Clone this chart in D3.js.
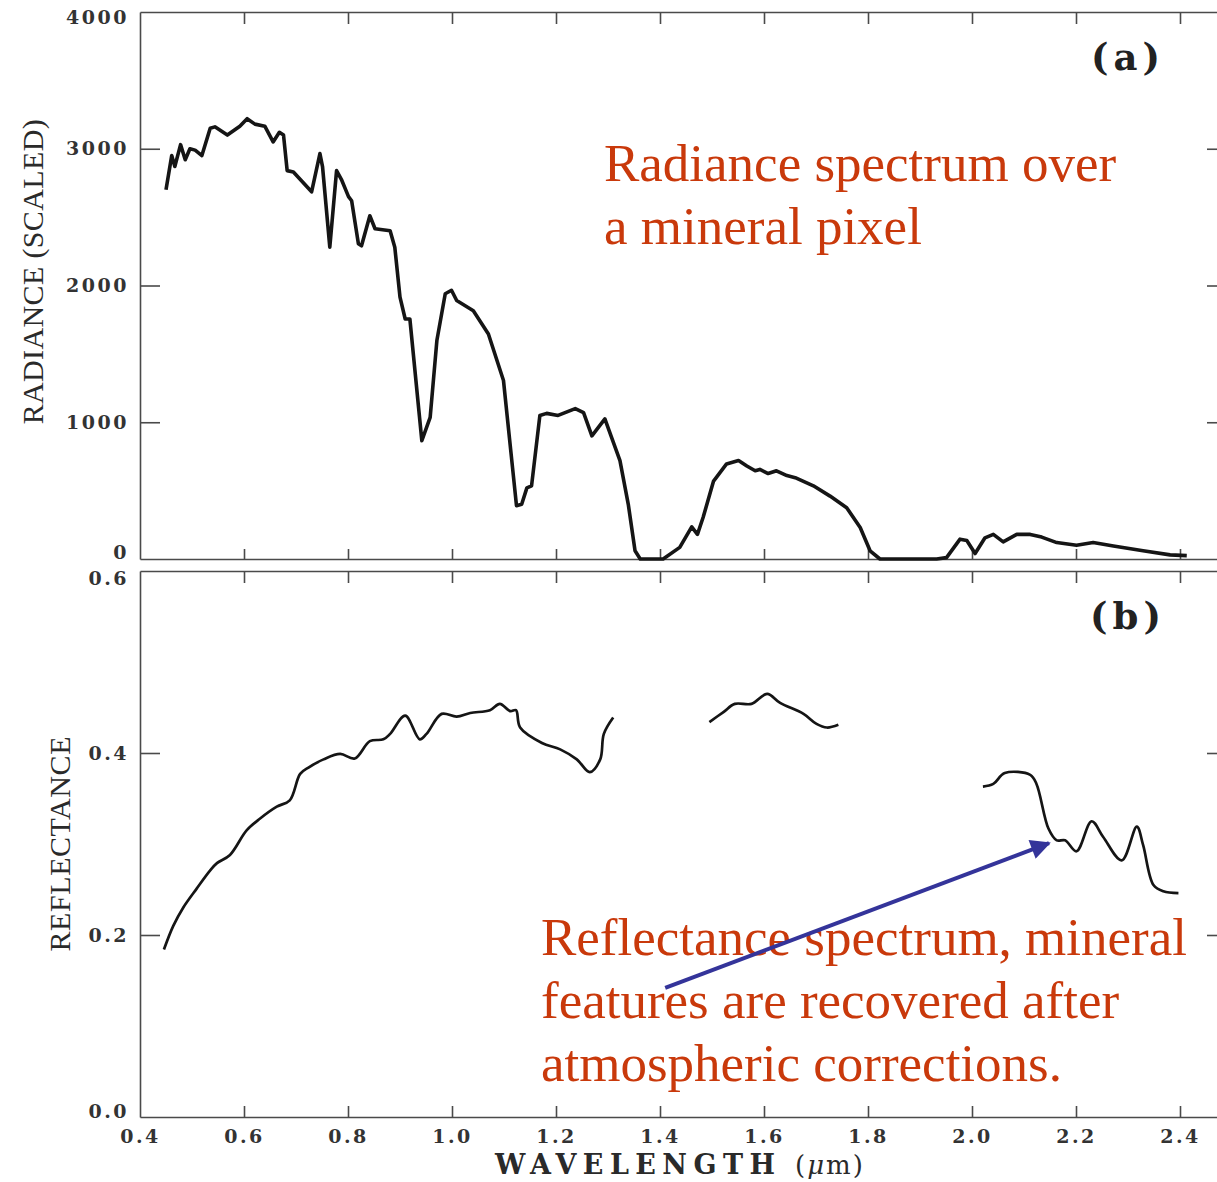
<!DOCTYPE html>
<html>
<head>
<meta charset="utf-8">
<script src="https://cdn.jsdelivr.net/npm/d3@7"></script>
<style>
    body { margin: 0; background: #fff; }
    .axis path, .axis line { stroke: #4a4a4a; stroke-width: 1.6; }
    .axis text { font-family: "DejaVu Serif", serif; font-weight: bold; fill: #333; letter-spacing: 2.5px; }
</style>
</head>
<body>
<div id="chart"></div>
<script>
// radiance spectrum, panel (a)
const radWl = [0.450,0.461,0.467,0.478,0.487,0.496,0.506,0.519,0.535,0.544,0.568,0.592,0.606,0.621,0.640,0.656,0.668,0.676,0.683,0.695,
    0.730,0.746,0.751,0.765,0.778,0.788,0.801,0.807,0.820,0.826,0.842,0.852,0.881,0.890,0.900,0.910,0.919,0.942,0.958,0.971,
    0.987,0.999,1.009,1.041,1.070,1.099,1.124,1.134,1.144,1.153,1.169,1.182,1.204,1.237,1.253,1.269,1.294,1.323,1.339,1.352,
    1.362,1.406,1.438,1.461,1.472,1.483,1.503,1.528,1.551,1.567,1.583,1.592,1.608,1.624,1.644,1.660,1.695,1.727,1.759,1.785,
    1.804,1.823,1.932,1.951,1.977,1.990,2.006,2.025,2.041,2.060,2.086,2.112,2.134,2.163,2.201,2.233,2.272,2.329,2.381,2.413];
const radVal = [2700,2950,2870,3030,2920,3000,2990,2950,3150,3160,3100,3165,3220,3180,3165,3050,3120,3100,2840,2830,
    2685,2965,2870,2280,2840,2770,2650,2620,2305,2290,2510,2415,2400,2280,1915,1755,1755,865,1035,1600,
    1940,1965,1890,1815,1645,1305,390,400,520,535,1050,1065,1050,1100,1070,900,1025,720,400,60,
    0,0,85,235,180,305,570,695,720,680,645,655,625,645,610,595,535,460,375,230,
    60,0,0,10,145,135,40,155,180,125,180,180,160,120,100,120,95,60,30,25];

// reflectance spectrum, panel (b) - three pieces (gaps at water bands)
const reflWlA = [0.446,0.464,0.483,0.509,0.535,0.548,0.573,0.605,0.631,0.663,0.688,0.708,0.724,0.753,0.785,0.813,0.842,0.868,0.881,0.910,
    0.938,0.951,0.980,1.009,1.035,1.073,1.092,1.112,1.123,1.131,1.173,1.208,1.240,1.265,1.285,1.292,1.310];
const reflA = [0.184,0.210,0.230,0.251,0.271,0.279,0.288,0.315,0.328,0.341,0.348,0.377,0.384,0.393,0.399,0.394,0.413,0.415,0.421,0.441,
    0.415,0.421,0.443,0.440,0.444,0.447,0.454,0.446,0.447,0.428,0.411,0.404,0.393,0.379,0.393,0.421,0.439];
const reflWlB = [1.495,1.522,1.544,1.576,1.606,1.631,1.676,1.701,1.721,1.743];
const reflB = [0.434,0.445,0.454,0.454,0.465,0.455,0.443,0.432,0.428,0.431];
const reflWlC = [2.021,2.041,2.063,2.112,2.124,2.147,2.163,2.179,2.201,2.230,2.252,2.288,2.317,2.329,2.349,2.368,2.397];
const reflC = [0.363,0.366,0.378,0.376,0.366,0.317,0.304,0.304,0.292,0.325,0.308,0.282,0.319,0.299,0.255,0.248,0.246];

const xTicks = [0.4,0.6,0.8,1.0,1.2,1.4,1.6,1.8,2.0,2.2,2.4];
const radTicks = [0,1000,2000,3000,4000];
const reflTicks = [0.0,0.2,0.4,0.6];

const width = 1217, height = 1182;
const svg = d3.select("#chart").append("svg")
    .attr("width", width)
    .attr("height", height);

// scales
const x = d3.scaleLinear().domain([0.4, 2.475]).range([140, 1219]);
const yRad = d3.scaleLinear().domain([0, 4000]).range([559, 12]);
const yRefl = d3.scaleLinear().domain([0, 0.6]).range([1117, 571]);

// nudge the end labels so the two panels' labels don't collide
function nudge(g, shifts) {
    g.selectAll(".tick text").attr("transform", d => shifts.has(d) ? `translate(0,${shifts.get(d)})` : null);
}

// panel (a) axes
svg.append("g").attr("class", "axis")
    .attr("transform", `translate(0,${yRad(4000)})`)
    .call(d3.axisTop(x).tickValues(xTicks.slice(1)).tickSize(-12).tickSizeOuter(0).tickFormat(""));
svg.append("g").attr("class", "axis")
    .attr("transform", `translate(0,${yRad(0)})`)
    .call(d3.axisBottom(x).tickValues(xTicks.slice(1)).tickSize(-10).tickSizeOuter(0).tickFormat(""));
svg.append("g").attr("class", "axis")
    .attr("transform", `translate(${x(0.4)},0)`)
    .style("font-size", "19px")
    .call(d3.axisLeft(yRad).tickValues(radTicks).tickSize(-20).tickSizeOuter(0).tickPadding(11).tickFormat(d3.format("d")))
    .call(g => g.selectAll(".tick line").filter(d => d === 0 || d === 4000).remove())
    .call(g => nudge(g, new Map([[4000, 5], [0, -7]])));
svg.append("g").attr("class", "axis")
    .attr("transform", `translate(${x(2.475)},0)`)
    .call(d3.axisRight(yRad).tickValues([1000,2000,3000]).tickSize(-12).tickSizeOuter(0).tickFormat(""));

// panel (b) axes
svg.append("g").attr("class", "axis")
    .attr("transform", `translate(0,${yRefl(0.6)})`)
    .call(d3.axisTop(x).tickValues(xTicks.slice(1)).tickSize(-12).tickSizeOuter(0).tickFormat(""));
svg.append("g").attr("class", "axis")
    .attr("transform", `translate(0,${yRefl(0)})`)
    .style("font-size", "19px")
    .call(d3.axisBottom(x).tickValues(xTicks).tickSize(-11).tickSizeOuter(0).tickPadding(13).tickFormat(d3.format(".1f")))
    .call(g => g.selectAll(".tick line").filter(d => d === 0.4).remove());
svg.append("g").attr("class", "axis")
    .attr("transform", `translate(${x(0.4)},0)`)
    .style("font-size", "19px")
    .call(d3.axisLeft(yRefl).tickValues(reflTicks).tickSize(-20).tickSizeOuter(0).tickPadding(11).tickFormat(d3.format(".1f")))
    .call(g => g.selectAll(".tick line").filter(d => d === 0 || d === 0.6).remove())
    .call(g => nudge(g, new Map([[0.6, 7], [0, -6]])));
svg.append("g").attr("class", "axis")
    .attr("transform", `translate(${x(2.475)},0)`)
    .call(d3.axisRight(yRefl).tickValues([0.2,0.4]).tickSize(-12).tickSizeOuter(0).tickFormat(""));

// axis titles
svg.append("text")
    .attr("transform", `translate(43,${(yRad(900) + yRad(3300)) / 2}) rotate(-90)`)
    .attr("text-anchor", "middle")
    .attr("font-family", "Liberation Serif, serif")
    .attr("font-size", "30px")
    .attr("fill", "#2a2a2a")
    .attr("textLength", 305).attr("lengthAdjust", "spacing")
    .text("RADIANCE (SCALED)");
svg.append("text")
    .attr("transform", `translate(70,${yRefl(0.3)}) rotate(-90)`)
    .attr("text-anchor", "middle")
    .attr("font-family", "Liberation Serif, serif")
    .attr("font-size", "30px")
    .attr("fill", "#2a2a2a")
    .attr("textLength", 215).attr("lengthAdjust", "spacing")
    .text("REFLECTANCE");
svg.append("text")
    .attr("x", 495).attr("y", 1174)
    .attr("font-family", "DejaVu Serif, serif")
    .attr("font-weight", "bold")
    .attr("font-size", "27px")
    .attr("fill", "#2a2a2a")
    .attr("textLength", 280).attr("lengthAdjust", "spacing")
    .text("WAVELENGTH");
svg.append("text")
    .attr("x", 795).attr("y", 1174)
    .attr("font-family", "DejaVu Serif, serif")
    .attr("font-size", "26px")
    .attr("fill", "#2a2a2a")
    .attr("letter-spacing", "2px")
    .html('(<tspan font-style="italic">μ</tspan>m)');

// panel letters
[["(a)", yRad(4000)], ["(b)", yRefl(0.6)]].forEach(([lbl, top]) => {
    svg.append("text")
        .attr("x", 1128)
        .attr("y", top + 58)
        .attr("text-anchor", "middle")
        .attr("font-family", "DejaVu Serif, serif")
        .attr("font-weight", "bold")
        .attr("font-size", "37px")
        .attr("letter-spacing", "5px")
        .attr("fill", "#222")
        .text(lbl);
});

// curves
const radLine = d3.line().x(d => x(d[0])).y(d => yRad(d[1]));
svg.append("path")
    .datum(d3.zip(radWl, radVal))
    .attr("d", radLine)
    .attr("fill", "none")
    .attr("stroke", "#151515")
    .attr("stroke-width", 3.6)
    .attr("stroke-linejoin", "round");

const reflLine = d3.line().x(d => x(d[0])).y(d => yRefl(d[1])).curve(d3.curveCatmullRom);
[[reflWlA, reflA], [reflWlB, reflB], [reflWlC, reflC]].forEach(([wl, r]) => {
    svg.append("path")
        .datum(d3.zip(wl, r))
        .attr("d", reflLine)
        .attr("fill", "none")
        .attr("stroke", "#151515")
        .attr("stroke-width", 2.7)
        .attr("stroke-linejoin", "round");
});

// annotations
const noteColor = "#c9390b";
function note(lines, x0, y0) {
    lines.forEach((t, i) => {
        svg.append("text")
            .attr("x", x0).attr("y", y0 + i * 63)
            .attr("font-family", "Liberation Serif, Times New Roman, serif")
            .attr("font-size", "53px")
            .attr("fill", noteColor)
            .text(t);
    });
}
note(["Radiance spectrum over", "a mineral pixel"], 604, 181);
note(["Reflectance spectrum, mineral", "features are recovered after", "atmospheric corrections."], 541, 955);

// arrow pointing at the mineral absorption features
svg.append("defs").append("marker")
    .attr("id", "head")
    .attr("viewBox", "0 0 10 10")
    .attr("refX", 9).attr("refY", 5)
    .attr("markerWidth", 6.5).attr("markerHeight", 5)
    .attr("markerUnits", "strokeWidth")
    .attr("orient", "auto")
    .append("path")
    .attr("d", "M0,0 L10,5 L0,10 z")
    .attr("fill", "#34349a");
svg.append("line")
    .attr("x1", x(1.41)).attr("y1", yRefl(0.142))
    .attr("x2", x(2.148)).attr("y2", yRefl(0.301))
    .attr("stroke", "#34349a")
    .attr("stroke-width", 4)
    .attr("marker-end", "url(#head)");
</script>
</body>
</html>
